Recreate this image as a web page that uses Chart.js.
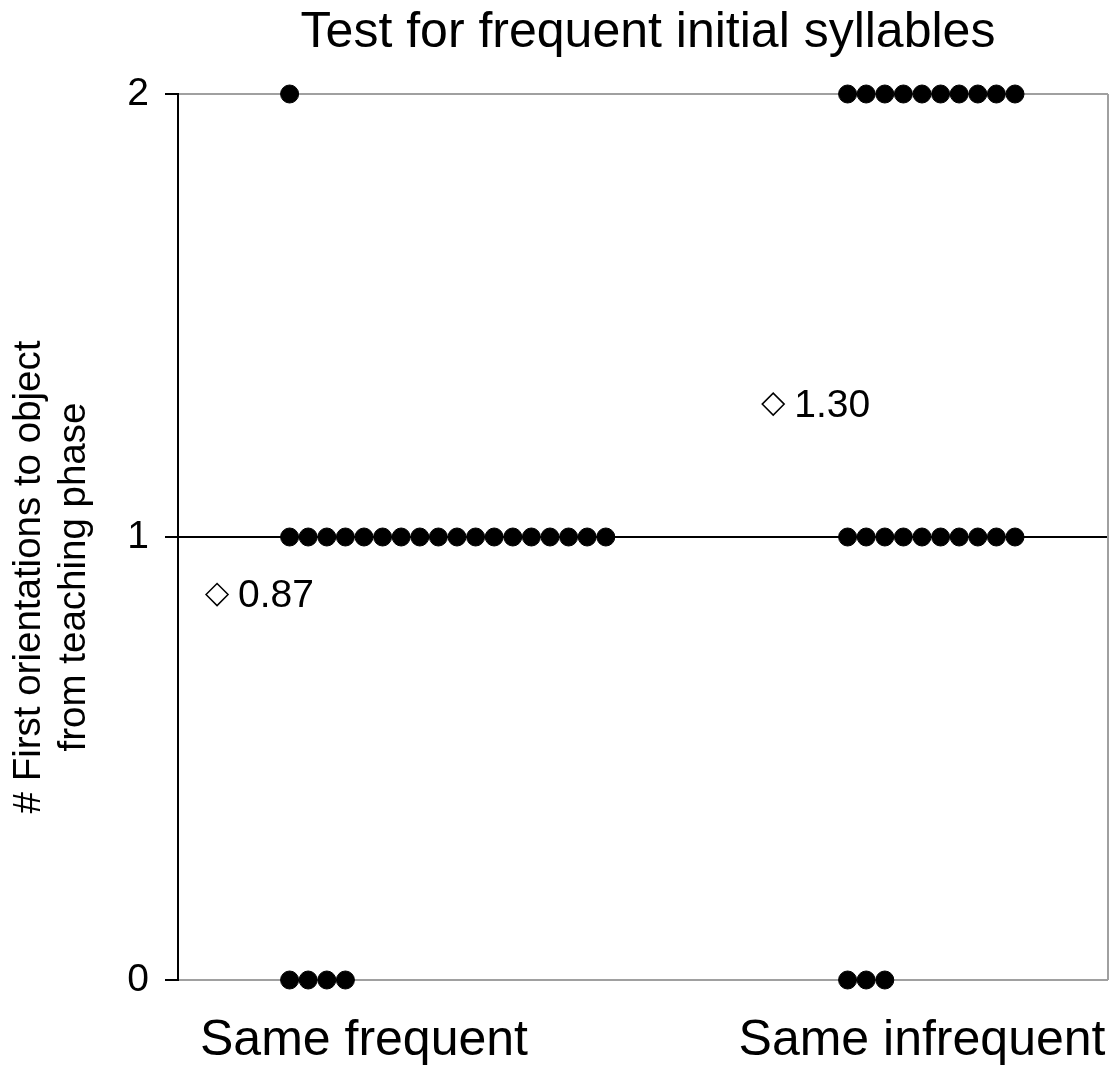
<!DOCTYPE html>
<html>
<head>
<meta charset="utf-8">
<script src="https://cdn.jsdelivr.net/npm/chart.js@4"></script>
<style>
  html, body { margin: 0; padding: 0; background: #fff; }
  #wrap { width: 1115px; height: 1065px; }
</style>
</head>
<body>
<div id="wrap"><canvas id="chart"></canvas></div>
<script>
// categories and per-subject scores
const categories = ['Same frequent', 'Same infrequent'];
const sameFrequent = [2,
  1, 1, 1, 1, 1, 1, 1, 1, 1, 1, 1, 1, 1, 1, 1, 1, 1, 1,
  0, 0, 0, 0];
const sameInfrequent = [2, 2, 2, 2, 2, 2, 2, 2, 2, 2,
  1, 1, 1, 1, 1, 1, 1, 1, 1, 1,
  0, 0, 0];
const means = [0.87, 1.30];
const yTicks = [0, 1, 2];

// layout on the hidden x scale (0..10)
const labelX = [2, 8];
const dotStart = [1.2, 7.2];
const dotStep = 0.2;
const meanX = [0.42, 6.4];

const FONT = '"Liberation Sans", Arial, sans-serif';

// stack equal scores side by side, left to right
function dotsFor(scores, start) {
    const used = {};
    return scores.map(function(s) {
        used[s] = (used[s] || 0);
        const p = { x: start + used[s] * dotStep, y: s };
        used[s]++;
        return p;
    });
}

const dots = dotsFor(sameFrequent, dotStart[0]).concat(dotsFor(sameInfrequent, dotStart[1]));
const meanPts = means.map(function(m, i) { return { x: meanX[i], y: m }; });

const extras = {
    id: 'extras',
    afterDatasetsDraw(chart) {
        const ctx = chart.ctx;
        const area = chart.chartArea;
        ctx.save();
        // right frame line
        ctx.strokeStyle = '#a0a0a0';
        ctx.lineWidth = 2;
        ctx.beginPath();
        ctx.moveTo(area.right, area.top);
        ctx.lineTo(area.right, area.bottom);
        ctx.stroke();

        ctx.fillStyle = '#000';

        // title
        ctx.font = '50px ' + FONT;
        ctx.textAlign = 'center';
        ctx.textBaseline = 'alphabetic';
        ctx.fillText('Test for frequent initial syllables', (area.left + area.right) / 2 + 5, 47);

        // mean labels
        ctx.font = '39px ' + FONT;
        ctx.textAlign = 'left';
        ctx.textBaseline = 'middle';
        chart.getDatasetMeta(1).data.forEach(function(pt, i) {
            ctx.fillText(means[i].toFixed(2), pt.x + 21, pt.y + 2);
        });

        // y axis title (two lines)
        ctx.font = '38.5px ' + FONT;
        ctx.textAlign = 'center';
        ctx.translate(0, 577);
        ctx.rotate(-Math.PI / 2);
        ctx.fillText('# First orientations to object', 0, 29);
        ctx.fillText('from teaching phase', 0, 74);
        ctx.restore();
    }
};

new Chart(document.getElementById('chart'), {
    type: 'scatter',
    data: {
        datasets: [{
            label: 'Subjects',
            data: dots,
            backgroundColor: '#000',
            borderColor: '#000',
            pointRadius: 9,
            pointHoverRadius: 9,
            clip: false
        }, {
            label: 'Mean',
            data: meanPts,
            pointStyle: 'rectRot',
            backgroundColor: '#fff',
            borderColor: '#000',
            borderWidth: 1.5,
            pointRadius: 11,
            pointHoverRadius: 11,
            clip: false
        }]
    },
    options: {
        responsive: true,
        maintainAspectRatio: false,
        animation: false,
        layout: { autoPadding: false, padding: { left: 0, right: 7, top: 94, bottom: 0 } },
        plugins: {
            legend: { display: false },
            tooltip: { enabled: false },
            title: { display: false }
        },
        scales: {
            x: {
                type: 'linear',
                min: 0,
                max: 10,
                afterBuildTicks: function(scale) {
                    scale.ticks = labelX.map(function(v) { return { value: v }; });
                },
                afterFit: function(scale) {
                    scale.height = 85;
                    scale.paddingLeft = 0;
                    scale.paddingRight = 0;
                },
                grid: { display: false },
                border: { display: false },
                ticks: {
                    color: '#000',
                    padding: 23,
                    maxRotation: 0,
                    autoSkip: false,
                    font: { family: FONT, size: 50 },
                    callback: function(v) { return categories[labelX.indexOf(v)]; }
                }
            },
            y: {
                min: 0,
                max: 2,
                afterBuildTicks: function(scale) {
                    scale.ticks = yTicks.map(function(v) { return { value: v }; });
                },
                afterFit: function(scale) { scale.width = 178; },
                grid: {
                    color: function(c) { return c.tick && c.tick.value === 1 ? '#000' : '#a0a0a0'; },
                    tickColor: '#000',
                    lineWidth: 2,
                    tickLength: 13
                },
                border: { color: '#000', width: 2 },
                ticks: {
                    color: '#000',
                    padding: 16,
                    font: { family: FONT, size: 39 }
                }
            }
        }
    },
    plugins: [extras]
});
</script>
</body>
</html>
